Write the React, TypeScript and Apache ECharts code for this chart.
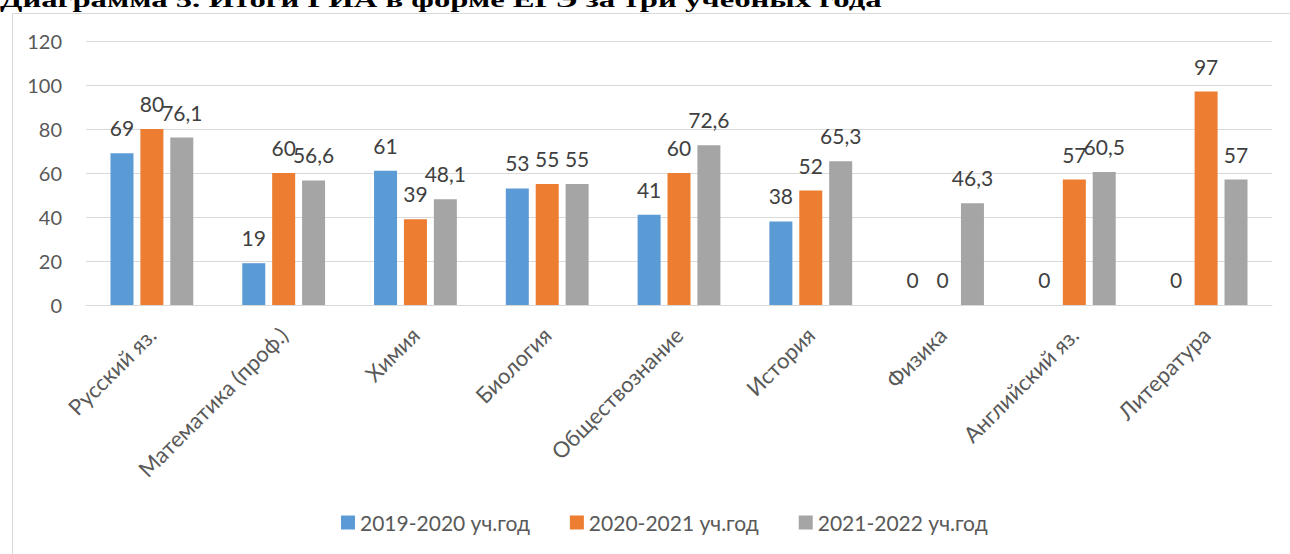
import React, { useEffect, useRef } from "react";
import * as echarts from "echarts";

const categories = [
  "Русский яз.",
  "Математика (проф.)",
  "Химия",
  "Биология",
  "Обществознание",
  "История",
  "Физика",
  "Английский яз.",
  "Литература",
];
const seriesNames = ["2019-2020 уч.год", "2020-2021 уч.год", "2021-2022 уч.год"];
const values2019 = [69, 19, 61, 53, 41, 38, 0, 0, 0];
const values2020 = [80, 60, 39, 55, 60, 52, 0, 57, 97];
const values2021 = [76.1, 56.6, 48.1, 55, 72.6, 65.3, 46.3, 60.5, 57];
const colors = ["#5B9BD5", "#ED7D31", "#A5A5A5"];
const titleText = "Диаграмма 5. Итоги ГИА в форме ЕГЭ за три учебных года";

const FONT = "Lato, 'Noto Sans', sans-serif";

export default function App() {
  const ref = useRef<HTMLDivElement>(null);
  useEffect(() => {
    if (!ref.current) return;
    const chart = echarts.init(ref.current, undefined, { renderer: "svg" });
    let scaleX = 1;
    try {
      const c = document.createElement("canvas").getContext("2d");
      if (c) {
        c.font = "bold 20px 'Liberation Serif'";
        const w = c.measureText(titleText).width;
        if (w > 0) scaleX = 882 / w;
      }
    } catch (e) {}
    const data = [values2019, values2020, values2021];
    const option = {
      animation: false,
      textStyle: { fontFamily: FONT },
      graphic: [
        {
          type: "rect",
          left: 10,
          top: 11,
          shape: { x: 0.5, y: 0.5, width: 1320, height: 600 },
          style: { fill: "none", stroke: "#D9D9D9", lineWidth: 1 },
          silent: true,
          z: -10,
        },
        {
          type: "text",
          x: 0,
          y: 0,
          scaleX: scaleX,
          style: {
            text: titleText,
            font: "bold 20px 'Liberation Serif'",
            fill: "#000",
            verticalAlign: "middle",
          },
        },
      ],
      grid: { left: 86, right: 18, top: 41, bottom: 249, containLabel: false },
      legend: {
        bottom: 16,
        left: 336,
        itemWidth: 14,
        itemHeight: 14,
        itemGap: 40,
        icon: "rect",
        textStyle: { fontSize: 21, color: "#595959", fontFamily: FONT },
        data: seriesNames,
      },
      xAxis: {
        type: "category",
        data: categories,
        axisLine: { show: true, lineStyle: { color: "#D9D9D9", width: 1 } },
        axisTick: { show: false },
        axisLabel: {
          interval: 0,
          rotate: 45,
          margin: 26,
          fontSize: 22,
          color: "#595959",
          fontFamily: FONT,
        },
      },
      yAxis: {
        type: "value",
        min: 0,
        max: 120,
        interval: 20,
        axisLine: { show: false },
        axisTick: { show: false },
        splitLine: { lineStyle: { color: "#D9D9D9", width: 1 } },
        axisLabel: { fontSize: 20, color: "#595959", margin: 24, fontFamily: FONT },
      },
      series: seriesNames.map((name, i) => ({
        name,
        type: "bar",
        data: data[i],
        barWidth: 23,
        barGap: "30%",
        itemStyle: { color: colors[i] },
        label: {
          show: true,
          position: "top",
          distance: 15,
          fontSize: 21,
          color: "#404040",
          fontFamily: FONT,
          formatter: (p: any) => String(p.value).replace(".", ","),
        },
      })),
    };
    chart.setOption(option as any);
    return () => chart.dispose();
  }, []);
  return (
    <div
      ref={ref}
      style={{ position: "fixed", left: 0, top: 0, width: 1290, height: 554, background: "#fff" }}
    />
  );
}
